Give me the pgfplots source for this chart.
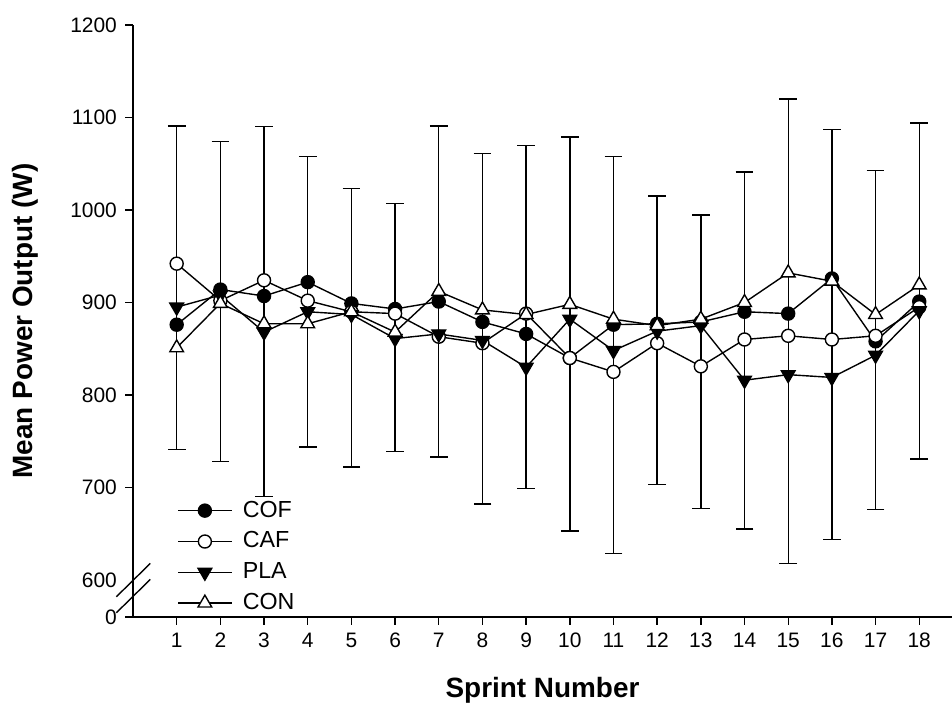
\documentclass[border=0pt]{standalone}
\usepackage{pgfplots}
\pgfplotsset{compat=1.18}
\usepackage{fontspec}
\setmainfont{Liberation Sans}

% sprint, COF, CAF, PLA, CON
\pgfplotstableread{
x  cof  caf  pla  con
1  876  942  895  851
2  914  902  908  899
3  907  924  868  877
4  922  902  890  877
5  899  890  887  890
6  893  888  861  868
7  901  863  866  912
8  879  856  859  892
9  866  888  830  887
10 840  840  882  898
11 876  825  848  882
12 877  856  869  875
13 879  831  875  882
14 890  860  816  900
15 888  864  822  932
16 926  860  819  923
17 858  864  843  887
18 901  895  891  919
}\means

% error bars: centre and half range
\pgfplotstableread{
x  mid    err
1  916    175
2  901    173
3  890    200
4  901    157
5  872.5  150.5
6  873    134
7  912    179
8  871.5  189.5
9  884.5  185.5
10 866    213
11 843    214.5
12 859    156
13 836    158.5
14 848    193
15 869    251
16 865.5  221.5
17 859.5  183.5
18 912.5  181.5
}\bars

\begin{document}
\begin{tikzpicture}
\begin{axis}[
  scale only axis, width=352.2pt, height=254.6pt,
  xmin=0, xmax=18.75, ymin=560, ymax=1200,
  axis x line=bottom, axis y line=left,
  axis line style={-, line width=0.6pt},
  tick align=outside, major tick length=3.4pt,
  tick style={black, line width=0.6pt},
  xtick={1,...,18},
  ytick={560,700,800,900,1000,1100,1200},
  yticklabels={0,700,800,900,1000,1100,1200},
  extra y ticks={600}, extra y tick labels={600},
  extra y tick style={major tick style={draw=none}},
  /pgf/number format/assume math mode=true,
  ticklabel style={font=\fontsize{9}{10}\selectfont},
  xlabel={\textbf{Sprint Number}},
  ylabel={\textbf{Mean Power Output (W)}},
  label style={font=\fontsize{12}{14}\selectfont},
  xlabel style={at={(axis description cs:0.5,-0.1233)}, anchor=center},
  ylabel style={at={(axis description cs:-0.132,0.5)}, anchor=center},
  clip=false,
  every axis plot/.append style={black, line width=0.6pt},
  legend style={at={(rel axis cs:0.0537,0.205)}, anchor=north west,
    draw=none, fill=none, font=\fontsize{10}{11}\selectfont,
    row sep=0.8pt, inner sep=0pt,
    /tikz/every odd column/.append style={column sep=2.5pt}},
  legend cell align=left,
  legend image code/.code={\draw[mark repeat=2,mark phase=2]
    plot coordinates {(0pt,0pt) (11.5pt,0pt) (23pt,0pt)};},
]
\addplot[forget plot, draw=none, mark=none,
  error bars/.cd, y dir=both, y explicit,
  error bar style={draw=black, line width=0.6pt},
  error mark options={draw=black, rotate=90, mark size=3.8pt, line width=0.6pt}]
  table[x=x, y=mid, y error=err] {\bars};
\addplot[mark=*, mark size=2.8pt, mark options={fill=black}] table[x=x, y=cof] {\means};
\addlegendentry{COF}
\addplot[mark=*, mark size=2.8pt, mark options={fill=white}] table[x=x, y=caf] {\means};
\addlegendentry{CAF}
\addplot[mark=triangle*, mark size=3.4pt, mark options={fill=black, rotate=180}] table[x=x, y=pla] {\means};
\addlegendentry{PLA}
\addplot[mark=triangle*, mark size=3.4pt, mark options={fill=white}] table[x=x, y=con] {\means};
\addlegendentry{CON}
% axis break marks
\draw[line width=0.6pt] (axis cs:-0.381,581.9) -- (axis cs:0.397,618.0);
\draw[line width=0.6pt] (axis cs:-0.381,564.6) -- (axis cs:0.397,600.7);
\coordinate (bb1) at (rel axis cs:-0.1624,-0.1554);
\coordinate (bb2) at (rel axis cs:1,1.0422);
\end{axis}
\pgfresetboundingbox
\path[use as bounding box] (bb1) rectangle (bb2);
\end{tikzpicture}
\end{document}
